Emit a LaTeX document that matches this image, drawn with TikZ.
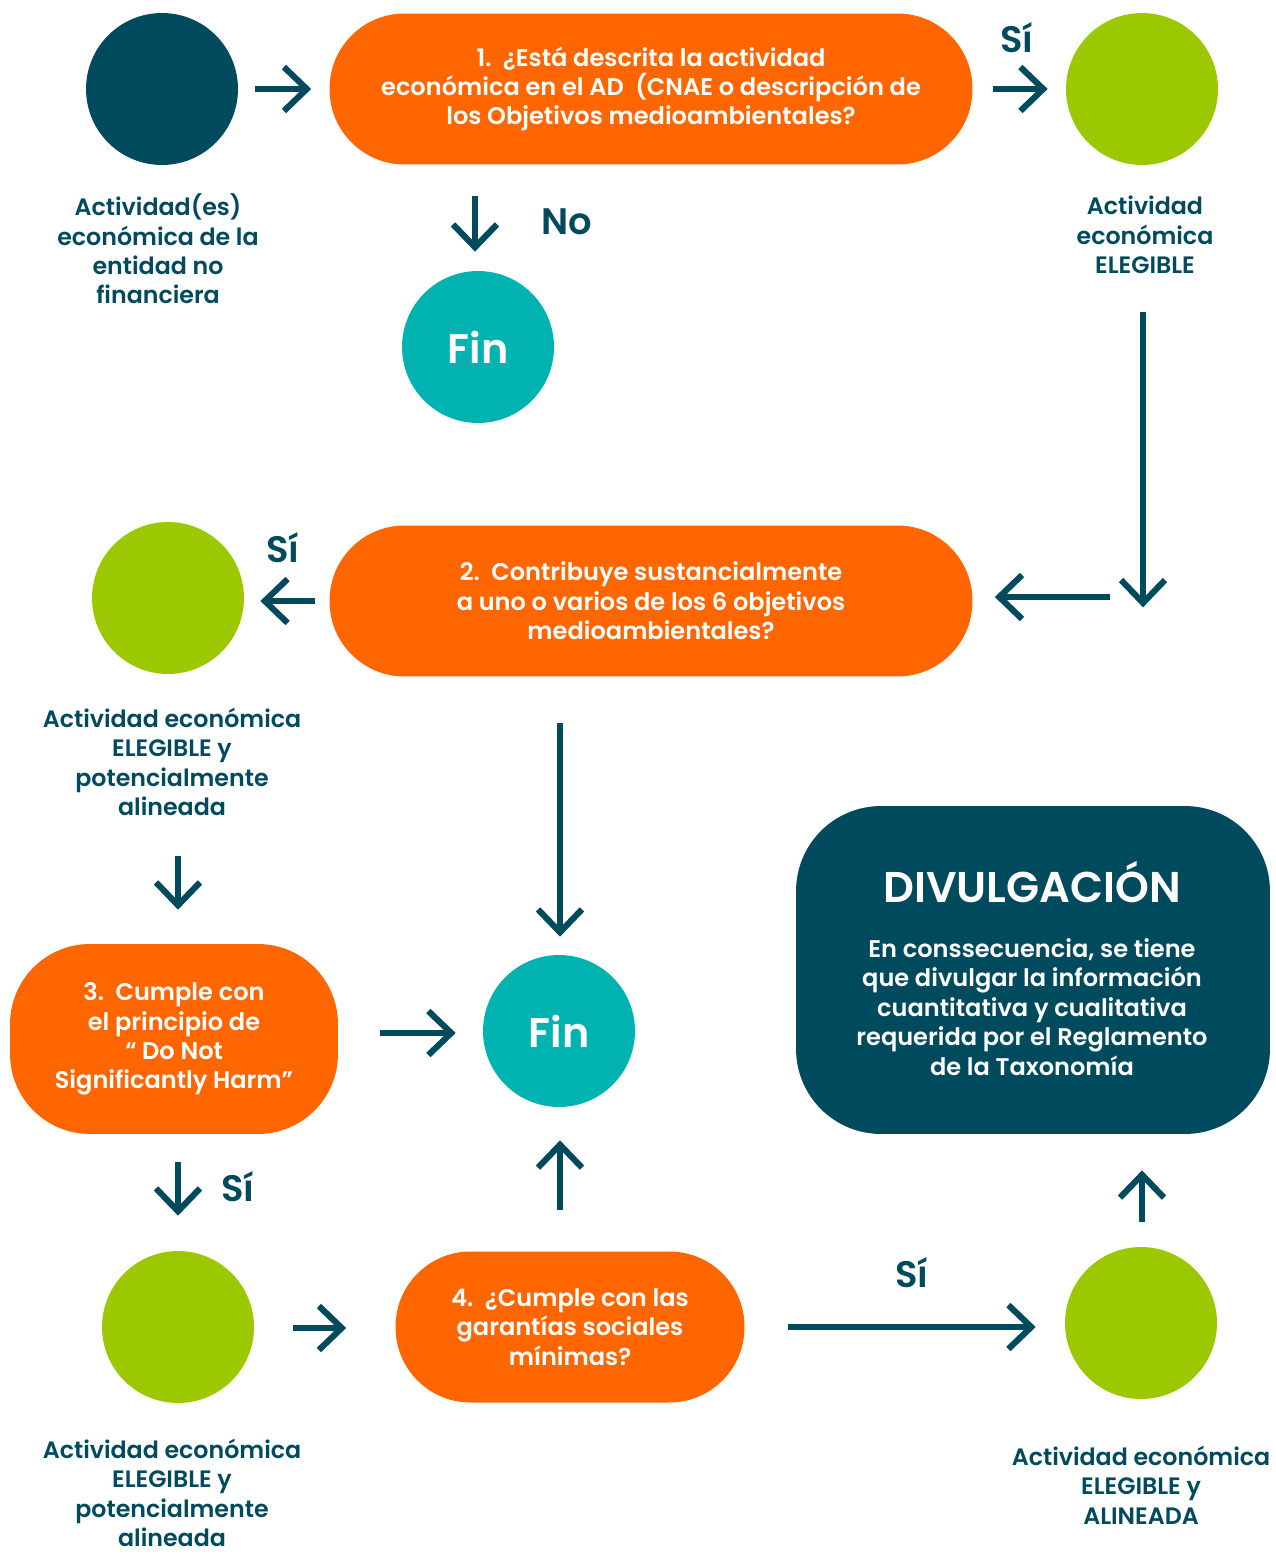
\documentclass[tikz,border=0pt]{standalone}
\usepackage{fontspec}
\setmainfont{Poppins}[BoldFont={Poppins SemiBold}]
\usetikzlibrary{arrows.meta,calc}
\definecolor{dteal}{HTML}{004A5E}
\definecolor{orng}{HTML}{FF6600}
\definecolor{lgreen}{HTML}{9BC800}
\definecolor{tealc}{HTML}{00B2B0}
\begin{document}
\begin{tikzpicture}[x=0.02cm,y=-0.02cm,
  circ/.style={circle,minimum size=3.04cm,inner sep=0pt},
  pill/.style={fill=orng,text=white,align=center,inner sep=0pt,
    font=\fontsize{13.7}{16.7}\selectfont\bfseries},
  lbl/.style={text=dteal,align=center,inner sep=0pt,
    font=\fontsize{13.5}{16.7}\selectfont\bfseries},
  yn/.style={text=dteal,inner sep=0pt,font=\fontsize{21}{24}\selectfont\bfseries},
  fintxt/.style={text=white,font=\fontsize{23.5}{28}\selectfont\bfseries},
  arr/.style={draw=dteal,line width=3.5pt,-{Straight Barb[length=13pt,width=25pt]}}
]
\useasboundingbox (0,0) rectangle (1275,1555);

% nodes
\node[circ,fill=dteal] (c0) at (162,89) {};
\node[pill,minimum width=12.86cm,minimum height=3.02cm,rounded corners=1.5cm] (q1) at (651,89)
  {1.\ \ ¿Está descrita la actividad\\económica en el AD\ \ (CNAE o descripción de\\los Objetivos medioambientales?};
\node[circ,fill=lgreen] (g1) at (1142,89) {};
\node[circ,fill=tealc,fintxt] (fin1) at (478,347) {Fin};

\node[pill,minimum width=12.86cm,minimum height=3.02cm,rounded corners=1.5cm] (q2) at (651,601)
  {2.\ \ Contribuye sustancialmente\\a uno o varios de los 6 objetivos\\medioambientales?};
\node[circ,fill=lgreen] (g2) at (168,598) {};

\node[pill,minimum width=6.56cm,minimum height=3.8cm,rounded corners=1.6cm] (q3) at (174,1039)
  {3.\ \ Cumple con\\el principio de\\“ Do Not\\Significantly Harm”};
\node[circ,fill=tealc,fintxt] (fin2) at (559,1031) {Fin};

\node[circ,fill=lgreen] (g3) at (178,1327) {};
\node[pill,minimum width=6.98cm,minimum height=3.02cm,rounded corners=1.5cm] (q4) at (570,1327)
  {4.\ \ ¿Cumple con las\\garantías sociales\\mínimas?};
\node[circ,fill=lgreen] (g4) at (1141,1323) {};

\node[fill=dteal,minimum width=9.48cm,minimum height=6.56cm,rounded corners=1.7cm] (div) at (1033,970) {};
\node[text=white,inner sep=0pt,font=\fontsize{24.5}{28}\selectfont\bfseries] (divt) at (1032,882) {DIVULGACIÓN};
\node[text=white,align=center,inner sep=0pt,font=\fontsize{13.7}{16.7}\selectfont\bfseries] (divb) at (1032,1007)
  {En conssecuencia, se tiene\\que divulgar la información\\cuantitativa y cualitativa\\requerida por el Reglamento\\de la Taxonomía};

% labels
\node[lbl] (l0) at (158,249) {Actividad(es)\\económica de la\\entidad no\\financiera};
\node[lbl] (lg1) at (1145,235) {Actividad\\económica\\ELEGIBLE};
\node[lbl] (lg2) at (172,762) {Actividad económica\\ELEGIBLE y\\potencialmente\\alineada};
\node[lbl] (lg3) at (172,1493) {Actividad económica\\ELEGIBLE y\\potencialmente\\alineada};
\node[lbl] (lg4) at (1141,1485) {Actividad económica\\ELEGIBLE y\\ALINEADA};

\node[yn] (s1) at (1017,38) {Sí};
\node[yn] (no1) at (567,222) {No};
\node[yn] (s2) at (283,548) {Sí};
\node[yn] (s3) at (238,1187) {Sí};
\node[yn] (s4) at (912,1273) {Sí};

% connectors
\draw[arr] ($(c0.east)+(17,0)$) -- ($(q1.west)+(-18,0)$);
\draw[arr] ($(q1.east)+(20,0)$) -- ($(g1.west)+(-18,0)$);
\draw[arr] ($(fin1.north)+(-3,-75)$) -- ($(fin1.north)+(-3,-19)$);
\draw[arr] ($(g1.south)+(1,147)$) -- ($(g1.south)+(1,442)$);
\draw[arr] ($(q2.east)+(137,-4)$) -- ($(q2.east)+(22,-4)$);
\draw[arr] ($(q2.west)+(-14,0)$) -- ($(g2.east)+(16,3)$);
\draw[arr] ($(q3.north)+(4,-88)$) -- ($(q3.north)+(4,-34)$);
\draw[arr] ($(q2.south)+(-91,46)$) -- ($(fin2.north)+(1,-18)$);
\draw[arr] ($(q3.east)+(42,-6)$) -- ($(fin2.west)+(-27,2)$);
\draw[arr] ($(q4.north)+(-10,-41)$) -- ($(fin2.south)+(1,33)$);
\draw[arr] ($(q3.south)+(4,28)$) -- ($(g3.north)+(0,-35)$);
\draw[arr] ($(g3.east)+(39,1)$) -- ($(q4.west)+(-49,1)$);
\draw[arr] ($(q4.east)+(43,0)$) -- ($(g4.west)+(-29,4)$);
\draw[arr] ($(g4.north)+(1,-25)$) -- ($(div.south)+(109,36)$);
\end{tikzpicture}
\end{document}
